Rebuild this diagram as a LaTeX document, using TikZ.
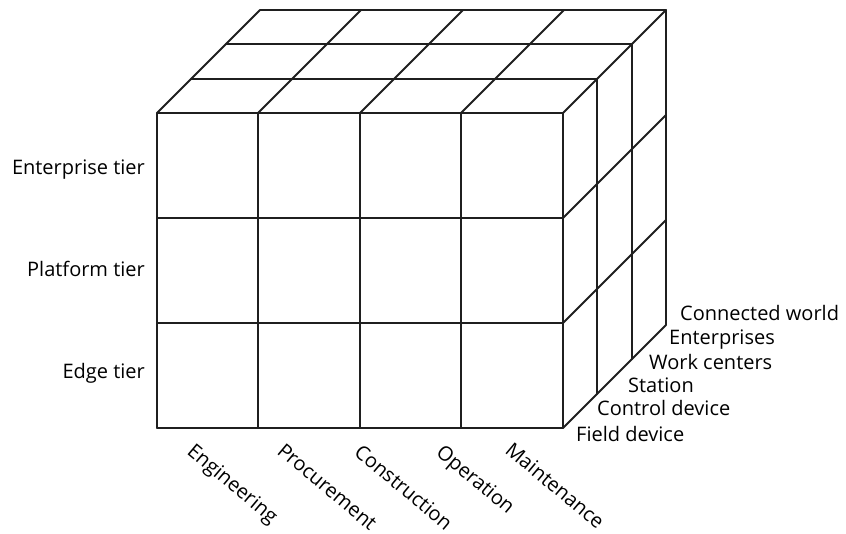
\documentclass[tikz,border=0pt]{standalone}
\usepackage{fontspec}
\setmainfont{Open Sans}
\usepackage{tikz}
\definecolor{cube ink}{rgb}{0.12, 0.12, 0.12}

\tikzset{
  grid line/.style = {line width=1.9pt, draw=cube ink},
  tier label/.style = {anchor=base east, inner sep=0pt, font=\fontsize{20}{24}\selectfont},
  level label/.style = {anchor=base west, inner sep=0pt, font=\fontsize{20}{24}\selectfont},
  phase label/.style = {anchor=base west, inner sep=0pt, rotate=-40, font=\fontsize{20}{24}\selectfont}
}

\begin{document}
\begin{tikzpicture}[x=1pt, y=1pt, line join=round, line cap=round]
			\useasboundingbox (0, 0) rectangle (846, 533);
			% front face
			\begin{scope}
				\foreach \x in {157,258,360,461,563}
					\draw[grid line] (\x, 105) -- ++(0, 315);
				\foreach \y in {105,210,315,420}
					\draw[grid line] (157, \y) -- ++(406, 0);
			\end{scope}
			% top face
			\begin{scope}
				\foreach \x in {157,258,360,461,563}
					\draw[grid line] (\x, 420) -- ++(103, 103);
				\foreach \d in {34,69,103}
					\draw[grid line] (157+\d, 420+\d) -- ++(406, 0);
			\end{scope}
			% right face
			\begin{scope}
				\foreach \d in {34,69,103}
					\draw[grid line] (563+\d, 105+\d) -- ++(0, 315);
				\foreach \y in {105,210,315}
					\draw[grid line] (563, \y) -- ++(103, 103);
			\end{scope}
			% tiers
			\node[tier label] (enterprise) at (145, 358) {Enterprise tier};
			\node[tier label] (platform) at (145, 256) {Platform tier};
			\node[tier label] (edge) at (145, 154) {Edge tier};
			% hierarchy levels
			\node[level label] (world) at (680, 212) {Connected world};
			\node[level label] (enterprises) at (669, 188) {Enterprises};
			\node[level label] (workcenters) at (649, 163) {Work centers};
			\node[level label] (station) at (628, 140) {Station};
			\node[level label] (control) at (597, 117) {Control device};
			\node[level label] (field) at (576, 91) {Field device};
			% life cycle
			\node[phase label] (engineering) at (186, 80) {Engineering};
			\node[phase label] (procurement) at (276, 80) {Procurement};
			\node[phase label] (construction) at (353, 79) {Construction};
			\node[phase label] (operation) at (435, 79) {Operation};
			\node[phase label] (maintenance) at (504, 81) {Maintenance};
		\end{tikzpicture}
\end{document}
